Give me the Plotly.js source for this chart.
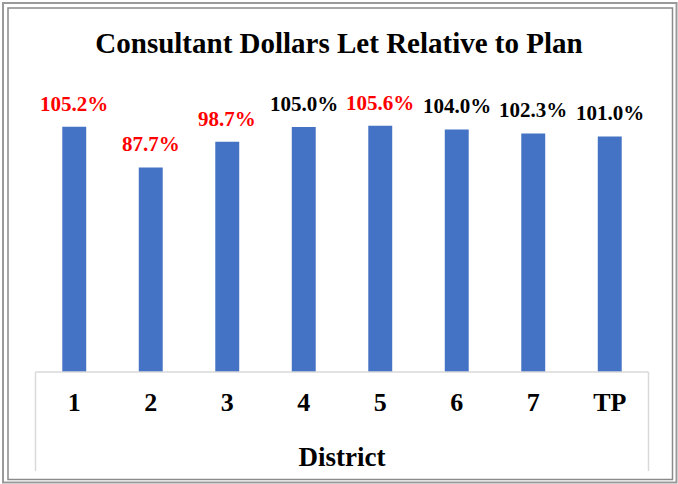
<!DOCTYPE html>
<html>
<head>
<meta charset="utf-8">
<script src="https://cdn.plot.ly/plotly-3.0.1.min.js"></script>
<style>
html,body{margin:0;padding:0;background:#fff;}
#chart{width:678px;height:484px;}
</style>
</head>
<body>
<div id="chart"></div>
<script>
const districts = ["1", "2", "3", "4", "5", "6", "7", "TP"];
const percentValues = [105.2, 87.7, 98.7, 105.0, 105.6, 104.0, 102.3, 101.0];
const labelColors = ["#FF0000", "#FF0000", "#FF0000", "#000000", "#FF0000", "#000000", "#000000", "#000000"];

const FONT = '"Liberation Serif", "Times New Roman", Times, serif';
const W = 678, H = 484;
const M = {l: 36, r: 30, t: 80, b: 112};
const PW = W - M.l - M.r, PH = H - M.t - M.b;
const px = x => (x - M.l) / PW;
const py = y => (H - M.b - y) / PH;

const trace = {
  type: 'bar',
  x: districts,
  y: percentValues,
  marker: {color: '#4472C4'},
  hoverinfo: 'skip',
  cliponaxis: false
};

const annotations = districts.map((d, i) => ({
  x: i, y: percentValues[i], xref: 'x', yref: 'y',
  text: '<b>' + percentValues[i].toFixed(1) + '%</b>',
  showarrow: false, yanchor: 'bottom', yshift: 9,
  font: {family: FONT, size: 21, color: labelColors[i]}
}));

const line = (x0, y0, x1, y1, color, width) => ({
  type: 'line', xref: 'paper', yref: 'paper',
  x0: px(x0), y0: py(y0), x1: px(x1), y1: py(y1),
  line: {color: color, width: width}
});
const rect = (x0, y0, x1, y1, color, width) => ({
  type: 'rect', xref: 'paper', yref: 'paper',
  x0: px(x0), y0: py(y0), x1: px(x1), y1: py(y1),
  line: {color: color, width: width}, fillcolor: 'rgba(0,0,0,0)'
});

const shapes = [
  rect(3, 3, 676.5, 482.5, '#9a9a9a', 2),
  rect(8, 8, 672.5, 479.5, '#8a8a8a', 1.5),
  line(35.5, 372, 648.5, 372, '#d9d9d9', 1.5),
  line(35.5, 372, 35.5, 471, '#d9d9d9', 1.5),
  line(648.5, 372, 648.5, 471, '#d9d9d9', 1.5)
];

const layout = {
  width: W, height: H,
  margin: M,
  paper_bgcolor: '#ffffff',
  plot_bgcolor: '#ffffff',
  showlegend: false,
  bargap: 0.687,
  title: {
    text: '<b>Consultant Dollars Let Relative to Plan</b>',
    font: {family: FONT, size: 29, color: '#000'},
    x: 0.5, xanchor: 'center', y: 1 - 43 / H, yanchor: 'middle'
  },
  xaxis: {
    type: 'category',
    range: [-0.5, 7.5],
    showgrid: false, zeroline: false, showline: false,
    ticks: '',
    ticklabelstandoff: 12,
    tickfont: {family: FONT, size: 26, color: '#000', weight: 'bold'},
    title: {text: '<b>District</b>', font: {family: FONT, size: 27, color: '#000'}, standoff: 31}
  },
  yaxis: {
    range: [0, 125.2],
    visible: false,
    showgrid: false, zeroline: false
  },
  annotations: annotations,
  shapes: shapes
};

Plotly.newPlot('chart', [trace], layout, {displayModeBar: false, staticPlot: true});
</script>
</body>
</html>
